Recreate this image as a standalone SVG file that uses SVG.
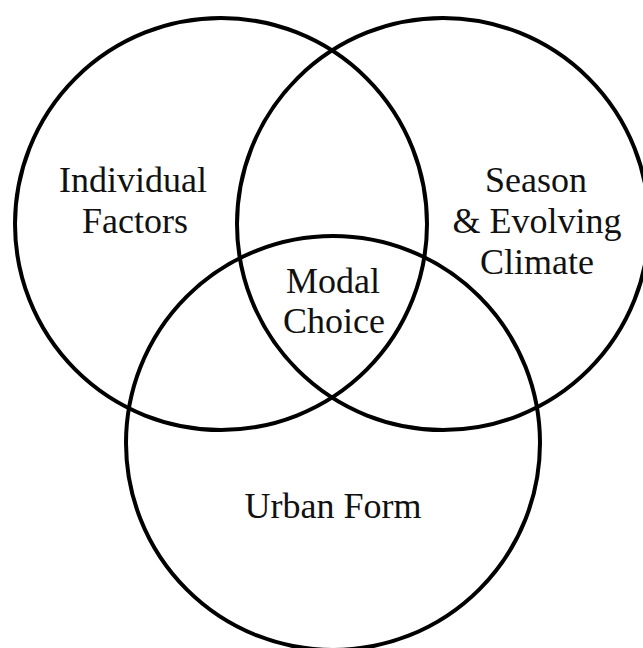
<svg xmlns="http://www.w3.org/2000/svg" width="643" height="648" viewBox="0 0 643 648">
  <style>
    .set { fill: none; stroke: #000; stroke-width: 4; }
    .label { font-family: "Liberation Serif", "DejaVu Serif", serif; font-size: 36px; fill: #111; text-anchor: middle; }
  </style>
  <rect width="643" height="648" fill="#fff"/>
  <g id="individual-factors">
    <circle class="set" cx="221" cy="224" r="206"/>
    <text class="label" x="133" y="192">Individual</text>
    <text class="label" x="135" y="233">Factors</text>
  </g>
  <g id="season-climate">
    <circle class="set" cx="443" cy="224" r="206"/>
    <text class="label" x="536" y="192">Season</text>
    <text class="label" x="537" y="233">&amp; Evolving</text>
    <text class="label" x="537" y="274">Climate</text>
  </g>
  <g id="urban-form">
    <circle class="set" cx="333" cy="443" r="207"/>
    <text class="label" x="333" y="518">Urban Form</text>
  </g>
  <g id="modal-choice">
    <text class="label" x="333" y="293">Modal</text>
    <text class="label" x="334" y="333">Choice</text>
  </g>
</svg>
